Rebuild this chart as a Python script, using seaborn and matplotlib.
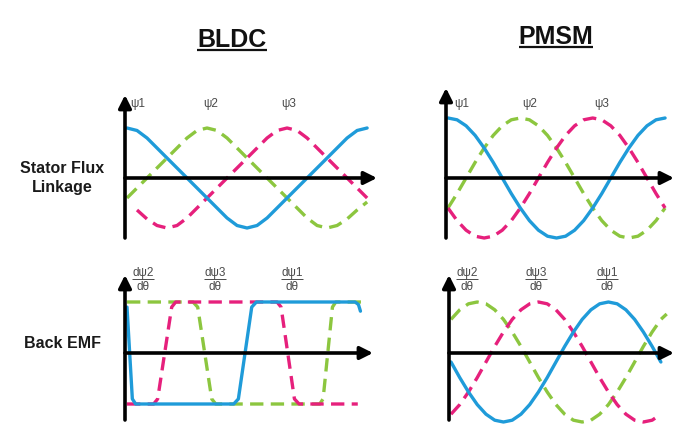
import pandas as pd
import seaborn as sns
import matplotlib.pyplot as plt
from matplotlib.lines import Line2D

# ---- values: angle in electrical degrees, value in units of the peak
angle = [0, 15, 30, 45, 60, 75, 90, 105, 120, 135, 150, 165, 180,
         195, 210, 225, 240, 255, 270, 285, 300, 315, 330, 345, 360]

# BLDC stator flux linkage (triangular with rounded tips)
bldc_flux_1 = [1.0, 0.95, 0.8, 0.6, 0.4, 0.2, 0.0, -0.2, -0.4, -0.6, -0.8, -0.95, -1.0,
               -0.95, -0.8, -0.6, -0.4, -0.2, 0.0, 0.2, 0.4, 0.6, 0.8, 0.95, 1.0]
bldc_flux_2 = [-0.4, -0.2, 0.0, 0.2, 0.4, 0.6, 0.8, 0.95, 1.0, 0.95, 0.8, 0.6, 0.4,
               0.2, 0.0, -0.2, -0.4, -0.6, -0.8, -0.95, -1.0, -0.95, -0.82, -0.64, -0.48]
bldc_flux_3_angle = angle[1:]
bldc_flux_3 = [-0.64, -0.82, -0.95, -1.0, -0.95, -0.8, -0.6, -0.4, -0.2, 0.0, 0.2, 0.4,
               0.6, 0.8, 0.95, 1.0, 0.95, 0.8, 0.6, 0.4, 0.2, 0.0, -0.2, -0.4]

# PMSM stator flux linkage (sinusoidal)
pmsm_flux_1 = [1.0, 0.97, 0.87, 0.71, 0.5, 0.26, 0.0, -0.26, -0.5, -0.71, -0.87, -0.97, -1.0,
               -0.97, -0.87, -0.71, -0.5, -0.26, 0.0, 0.26, 0.5, 0.71, 0.87, 0.97, 1.0]
pmsm_flux_2 = [-0.5, -0.26, 0.0, 0.26, 0.5, 0.71, 0.87, 0.97, 1.0, 0.97, 0.87, 0.71, 0.5,
               0.26, 0.0, -0.26, -0.5, -0.71, -0.87, -0.97, -1.0, -0.97, -0.87, -0.71, -0.5]
pmsm_flux_3 = [-0.5, -0.71, -0.87, -0.97, -1.0, -0.97, -0.87, -0.71, -0.5, -0.26, 0.0, 0.26, 0.5,
               0.71, 0.87, 0.97, 1.0, 0.97, 0.87, 0.71, 0.5, 0.26, 0.0, -0.26, -0.5]

# BLDC back EMF (trapezoidal), corner points
bldc_emf_1_angle = [0, 8, 13, 160, 167, 187, 194, 342, 347, 350]
bldc_emf_1 = [0.9, -0.9, -1.0, -1.0, -0.9, 0.9, 1.0, 1.0, 0.95, 0.82]
bldc_emf_2_angle = [0, 99, 106, 127, 133, 289, 294, 308, 313, 352]
bldc_emf_2 = [1.0, 1.0, 0.9, -0.9, -1.0, -1.0, -0.9, 0.9, 1.0, 1.0]
bldc_emf_3_angle = [0, 40, 46, 67, 73, 225, 231, 251, 258, 346]
bldc_emf_3 = [-1.0, -1.0, -0.9, 0.9, 1.0, 1.0, 0.9, -0.9, -1.0, -1.0]

# PMSM back EMF (sinusoidal, drawn slightly below the axis)
pmsm_emf_1 = [-0.15, -0.41, -0.65, -0.86, -1.02, -1.12, -1.15, -1.12, -1.02, -0.86, -0.65, -0.41, -0.15,
              0.11, 0.35, 0.56, 0.72, 0.82, 0.85, 0.82, 0.72, 0.56, 0.35, 0.11, -0.15]
pmsm_emf_2_angle = angle + [370]
pmsm_emf_2 = [0.56, 0.72, 0.82, 0.85, 0.82, 0.72, 0.56, 0.35, 0.11, -0.15, -0.41, -0.65, -0.86,
              -1.02, -1.12, -1.15, -1.12, -1.02, -0.86, -0.65, -0.41, -0.15, 0.11, 0.35, 0.56, 0.65]
pmsm_emf_3 = [-1.02, -0.86, -0.65, -0.41, -0.15, 0.11, 0.35, 0.56, 0.72, 0.82, 0.85, 0.82, 0.72,
              0.56, 0.35, 0.11, -0.15, -0.41, -0.65, -0.86, -1.02, -1.12, -1.15, -1.12, -1.02]

phases = ['ψ1', 'ψ2', 'ψ3']
flux_labels = ['ψ1', 'ψ2', 'ψ3']
emf_labels = ['dψ2', 'dψ3', 'dψ1']
emf_denominator = 'dθ'
motor_titles = ['BLDC', 'PMSM']
row_titles = ['Stator Flux\nLinkage', 'Back EMF']


def frame(curves):
    parts = [pd.DataFrame({'angle': a, 'value': v, 'phase': p}) for p, a, v in curves]
    return pd.concat(parts, ignore_index=True)


panels = {
    'bldc_flux': frame([('ψ1', angle, bldc_flux_1), ('ψ2', angle, bldc_flux_2),
                        ('ψ3', bldc_flux_3_angle, bldc_flux_3)]),
    'pmsm_flux': frame([('ψ1', angle, pmsm_flux_1), ('ψ2', angle, pmsm_flux_2),
                        ('ψ3', angle, pmsm_flux_3)]),
    'bldc_emf': frame([('ψ1', bldc_emf_1_angle, bldc_emf_1), ('ψ2', bldc_emf_2_angle, bldc_emf_2),
                       ('ψ3', bldc_emf_3_angle, bldc_emf_3)]),
    'pmsm_emf': frame([('ψ1', angle, pmsm_emf_1), ('ψ2', pmsm_emf_2_angle, pmsm_emf_2),
                       ('ψ3', angle, pmsm_emf_3)]),
}

# ---- styling / layout
sns.set_style('white')
FONT = ['Liberation Sans', 'DejaVu Sans']
plt.rcParams['font.family'] = FONT

palette = {'ψ1': '#1f9bd9', 'ψ2': '#8cc63f', 'ψ3': '#e6207c'}
dashes = {'ψ1': '', 'ψ2': (4.0, 2.2), 'ψ3': (4.0, 2.2)}
draw_order = ['ψ2', 'ψ3', 'ψ1']

W, H = 676, 444
fig = plt.figure(figsize=(W / 100, H / 100), dpi=100)
fig.patch.set_facecolor('white')


def fx(x):
    return x / W


def fy(y):
    return 1 - y / H


# (origin x px, px per degree, axis y px, px per unit, x-axis tip px, y-axis bottom px, y-axis tip px)
geom = {
    'bldc_flux': (127, 0.667, 178, 50, 377, 238, 95),
    'pmsm_flux': (448, 0.603, 178, 60, 674, 238, 88),
    'bldc_emf': (127, 0.667, 353, 51, 373, 420, 275),
    'pmsm_emf': (451, 0.583, 353, 60, 674, 420, 275),
}

for key, df in panels.items():
    x0, ppd, y0, amp, xtip, ybot, ytip = geom[key]
    xlim = (-15, (xtip - x0) / ppd + 10)
    ylim = ((y0 - ybot) / amp - 0.1, (y0 - ytip) / amp + 0.1)
    left = x0 + xlim[0] * ppd
    width = (xlim[1] - xlim[0]) * ppd
    top = y0 - ylim[1] * amp
    height = (ylim[1] - ylim[0]) * amp
    ax = fig.add_axes([fx(left), fy(top + height), width / W, height / H])
    sns.lineplot(data=df, x='angle', y='value', hue='phase', style='phase',
                 hue_order=draw_order, style_order=draw_order,
                 palette=palette, dashes=dashes, lw=2.4,
                 estimator=None, sort=False, legend=False, ax=ax)
    ax.set_xlim(xlim)
    ax.set_ylim(ylim)
    ax.axis('off')
    xa = -2 / ppd
    arrow = dict(arrowstyle='-|>', color='black', lw=2.6, mutation_scale=19,
                 shrinkA=0, shrinkB=0)
    ax.annotate('', xy=((xtip - x0) / ppd, 0), xytext=(xa, 0), arrowprops=arrow,
                zorder=5, annotation_clip=False)
    ax.annotate('', xy=(xa, (y0 - ytip) / amp), xytext=(xa, (y0 - ybot) / amp),
                arrowprops=arrow, zorder=5, annotation_clip=False)

# titles
title_pos = [(232, 47), (556, 44)]
title_texts = []
for name, (x, y) in zip(motor_titles, title_pos):
    t = fig.text(fx(x), fy(y), name, ha='center', va='baseline', fontsize=18,
                 fontweight='bold', color='#111111')
    title_texts.append((t, y + 3))

# row titles
for name, y in zip(row_titles, [178, 344]):
    fig.text(fx(62), fy(y), name, ha='center', va='center', fontsize=11.5,
             fontweight='bold', color='#1a1a1a', linespacing=1.35)

# phase labels over the flux panels
gray = '#4a4a4a'
for xs in ([138, 211, 289], [462, 530, 602]):
    for lab, x in zip(flux_labels, xs):
        fig.text(fx(x), fy(104), lab, ha='center', va='center', fontsize=8.5, color=gray)

# derivative labels over the back-EMF panels
frac_texts = []
for xs in ([143, 215, 292], [467, 536, 607]):
    for lab, x in zip(emf_labels, xs):
        t = fig.text(fx(x), fy(276), lab, ha='center', va='baseline', fontsize=8.5, color=gray)
        frac_texts.append((t, 278.5))
        fig.text(fx(x), fy(290), emf_denominator, ha='center', va='baseline', fontsize=8.5, color=gray)

fig.canvas.draw()
renderer = fig.canvas.get_renderer()


def underline(t, y, lw, color):
    bb = t.get_window_extent(renderer=renderer)
    fig.add_artist(Line2D([bb.x0 / W, bb.x1 / W], [fy(y), fy(y)], transform=fig.transFigure,
                          lw=lw, color=color, solid_capstyle='butt'))


for t, y in title_texts:
    underline(t, y, 1.6, '#111111')
for t, y in frac_texts:
    underline(t, y, 0.7, gray)

fig.savefig('out.png', dpi=100, facecolor='white')
